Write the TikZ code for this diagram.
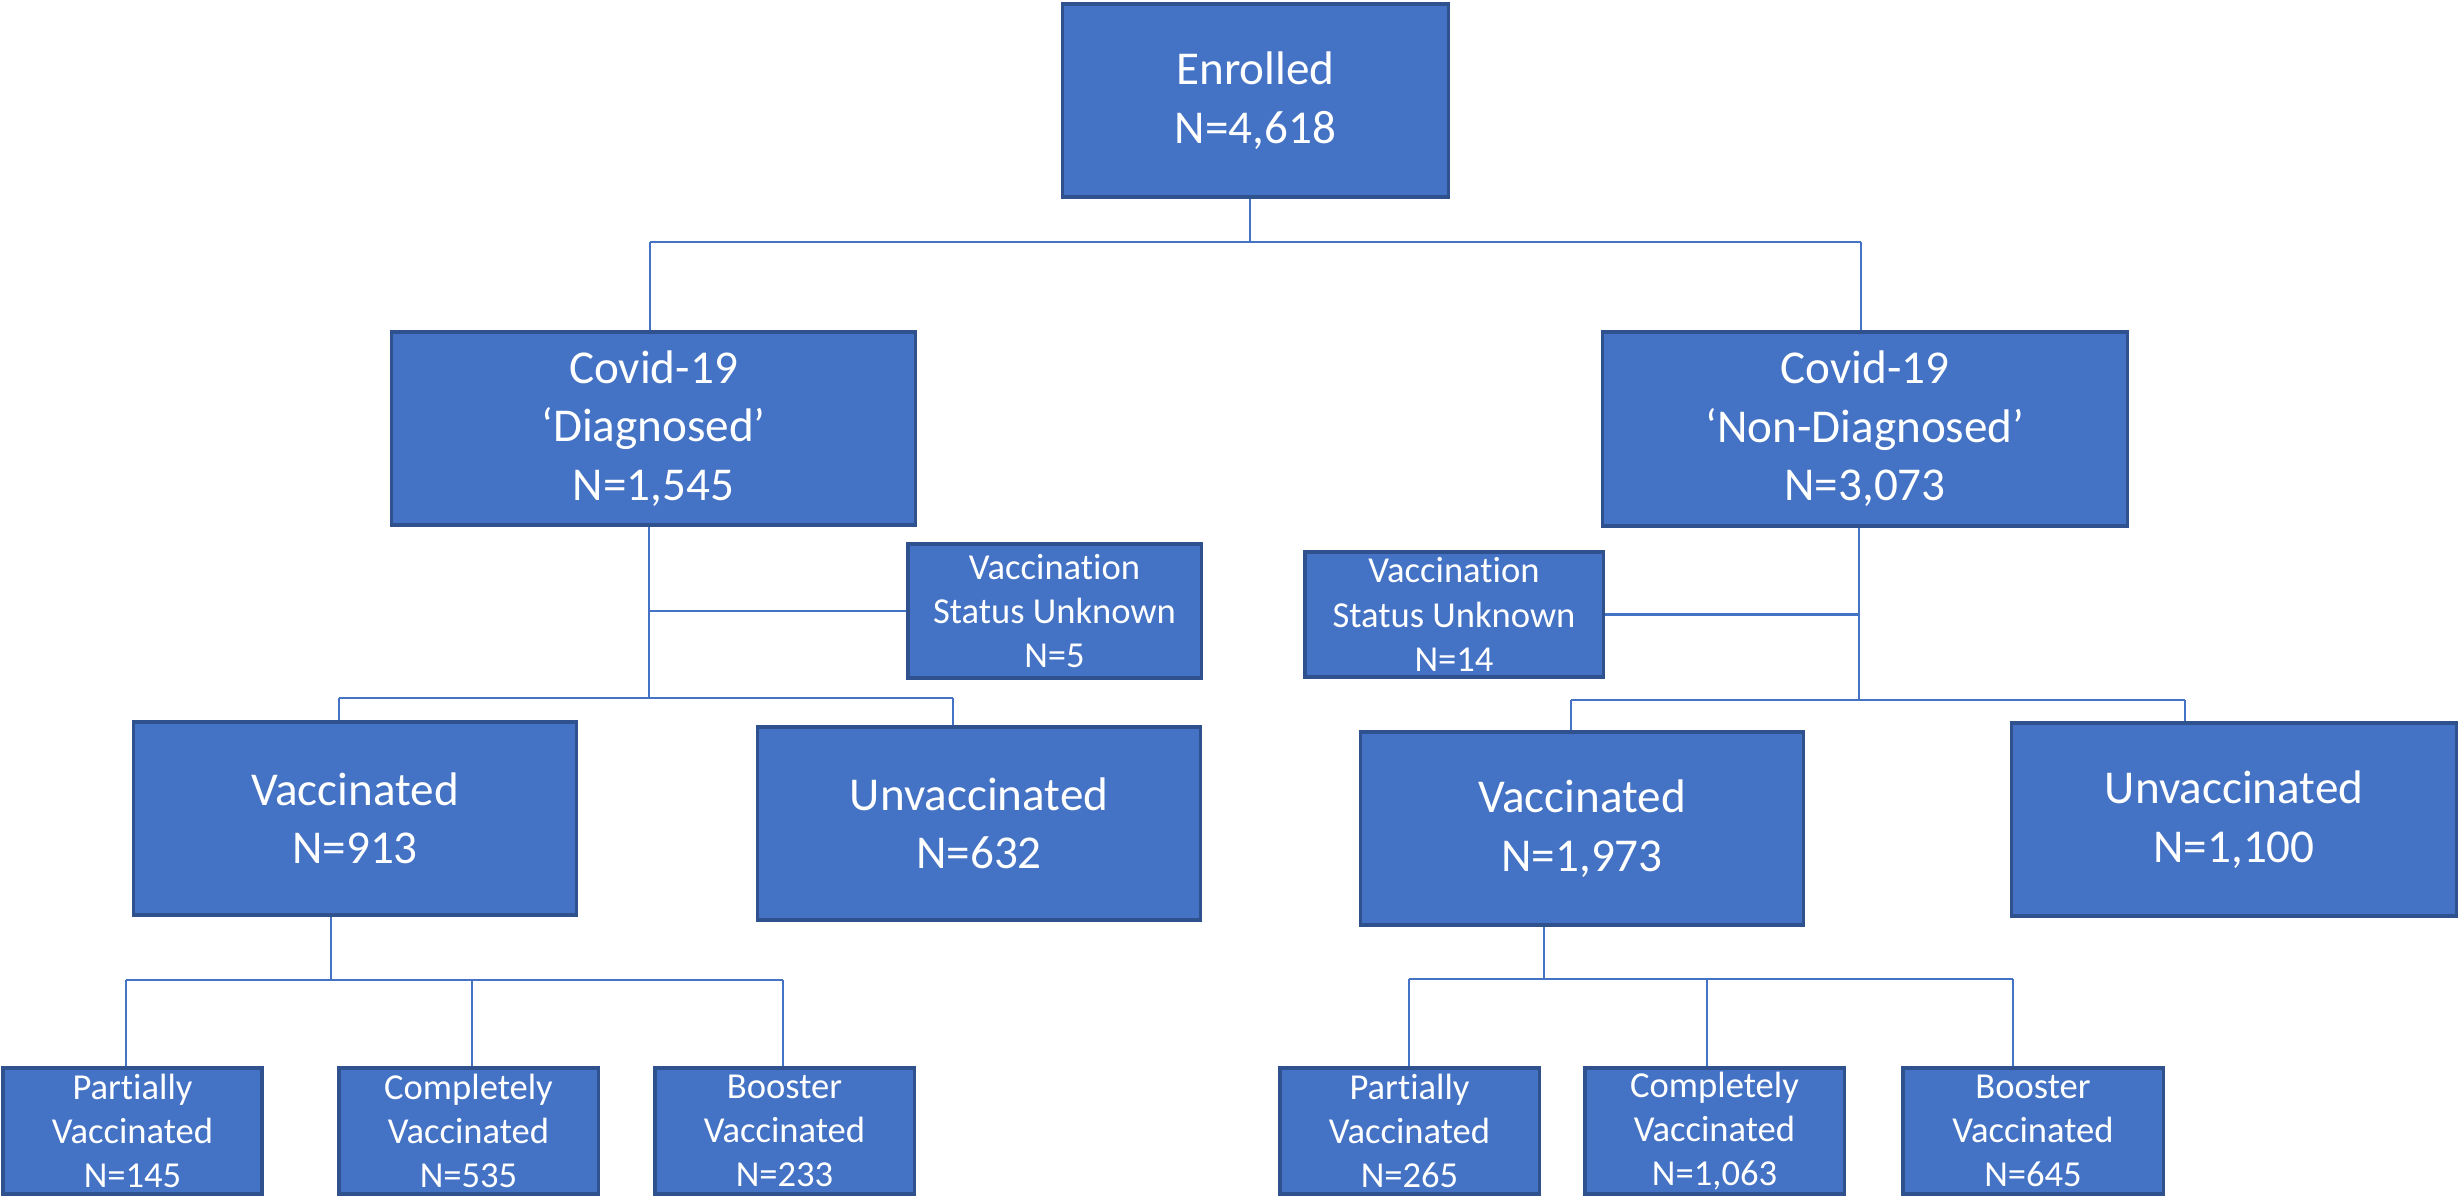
\documentclass[tikz,border=0pt]{standalone}
\usepackage{fontspec}
\setmainfont{Carlito}[Ligatures=NoCommon]
\definecolor{boxfill}{HTML}{4472C4}
\definecolor{boxline}{HTML}{2F528F}
\definecolor{connline}{HTML}{4472C4}
\begin{document}
\begin{tikzpicture}[x=0.01cm,y=-0.01cm,
  box/.style={draw=boxline, fill=boxfill, line width=0.9pt, text=white, align=center, inner sep=0pt},
  bigbox/.style={box, font=\fontsize{13.4}{16.6}\selectfont},
  smallbox/.style={box, font=\fontsize{10.4}{12.6}\selectfont},
  conn/.style={draw=connline, line width=0.6pt}]
\useasboundingbox (0,0) rectangle (2458,1196);
% boxes
\node[bigbox, minimum width=3.85cm, minimum height=1.93cm] (enr) at (1255.5,100.5) {Enrolled\\N=4,618};
\node[bigbox, minimum width=5.23cm, minimum height=1.93cm] (diag) at (653.5,428.5) {Covid-19\\‘Diagnosed’\\N=1,545};
\node[bigbox, minimum width=5.24cm, minimum height=1.94cm] (nd) at (1865,429) {Covid-19\\‘Non-Diagnosed’\\N=3,073};
\node[smallbox, minimum width=2.93cm, minimum height=1.34cm] (unkL) at (1054.5,611) {Vaccinat\kern0pt ion\\Status Unknown\\N=5};
\node[smallbox, minimum width=2.98cm, minimum height=1.25cm] (unkR) at (1454,614.5) {Vaccinat\kern0pt ion\\Status Unknown\\N=14};
\node[bigbox, minimum width=4.42cm, minimum height=1.93cm] (vacL) at (355,818.5) {Vaccinated\\N=913};
\node[bigbox, minimum width=4.42cm, minimum height=1.93cm] (unvL) at (979,823.5) {Unvaccinated\\N=632};
\node[bigbox, minimum width=4.42cm, minimum height=1.93cm] (vacR) at (1582,828.5) {Vaccinated\\N=1,973};
\node[bigbox, minimum width=4.44cm, minimum height=1.93cm] (unvR) at (2234,819.5) {Unvaccinated\\N=1,100};
\node[smallbox, minimum width=2.59cm, minimum height=1.26cm] (pL) at (132.5,1131) {Partially\\Vaccinated\\N=145};
\node[smallbox, minimum width=2.59cm, minimum height=1.26cm] (cL) at (468.5,1131) {Completely\\Vaccinated\\N=535};
\node[smallbox, minimum width=2.59cm, minimum height=1.26cm] (bL) at (784.5,1131) {Booster\\Vaccinated\\N=233};
\node[smallbox, minimum width=2.59cm, minimum height=1.26cm] (pR) at (1409.5,1131) {Partially\\Vaccinated\\N=265};
\node[smallbox, minimum width=2.59cm, minimum height=1.26cm] (cR) at (1714.5,1131) {Completely\\Vaccinated\\N=1,063};
\node[smallbox, minimum width=2.60cm, minimum height=1.26cm] (bR) at (2033,1131) {Booster\\Vaccinated\\N=645};
% junction coordinates
\coordinate (t0) at (1250,242);
\coordinate (t1) at (650,242);
\coordinate (t2) at (1861,242);
\coordinate (l0) at (649,698);
\coordinate (l1) at (339,698);
\coordinate (l2) at (953,698);
\coordinate (r0) at (1859,700);
\coordinate (r1) at (1571,700);
\coordinate (r2) at (2185,700);
\coordinate (bl0) at (331,980);
\coordinate (bl1) at (126,980);
\coordinate (bl2) at (472,980);
\coordinate (bl3) at (783,980);
\coordinate (br0) at (1544,979);
\coordinate (br1) at (1409,979);
\coordinate (br2) at (1707,979);
\coordinate (br3) at (2013,979);
% top level
\draw[conn] (t0 |- enr.south) -- (t0);
\draw[conn] (t1) -- (t2);
\draw[conn] (t1) -- (t1 |- diag.north);
\draw[conn] (t2) -- (t2 |- nd.north);
% left branch
\draw[conn] (l0 |- diag.south) -- (l0);
\draw[conn] (l0 |- unkL.west) -- (unkL.west);
\draw[conn] (l1) -- (l2);
\draw[conn] (l1) -- (l1 |- vacL.north);
\draw[conn] (l2) -- (l2 |- unvL.north);
% right branch
\draw[conn] (r0 |- nd.south) -- (r0);
\draw[conn] (r0 |- unkR.east) -- (unkR.east);
\draw[conn] (r1) -- (r2);
\draw[conn] (r1) -- (r1 |- vacR.north);
\draw[conn] (r2) -- (r2 |- unvR.north);
% bottom left
\draw[conn] (bl0 |- vacL.south) -- (bl0);
\draw[conn] (bl1) -- (bl3);
\draw[conn] (bl1) -- (bl1 |- pL.north);
\draw[conn] (bl2) -- (bl2 |- cL.north);
\draw[conn] (bl3) -- (bl3 |- bL.north);
% bottom right
\draw[conn] (br0 |- vacR.south) -- (br0);
\draw[conn] (br1) -- (br3);
\draw[conn] (br1) -- (br1 |- pR.north);
\draw[conn] (br2) -- (br2 |- cR.north);
\draw[conn] (br3) -- (br3 |- bR.north);
\end{tikzpicture}
\end{document}
